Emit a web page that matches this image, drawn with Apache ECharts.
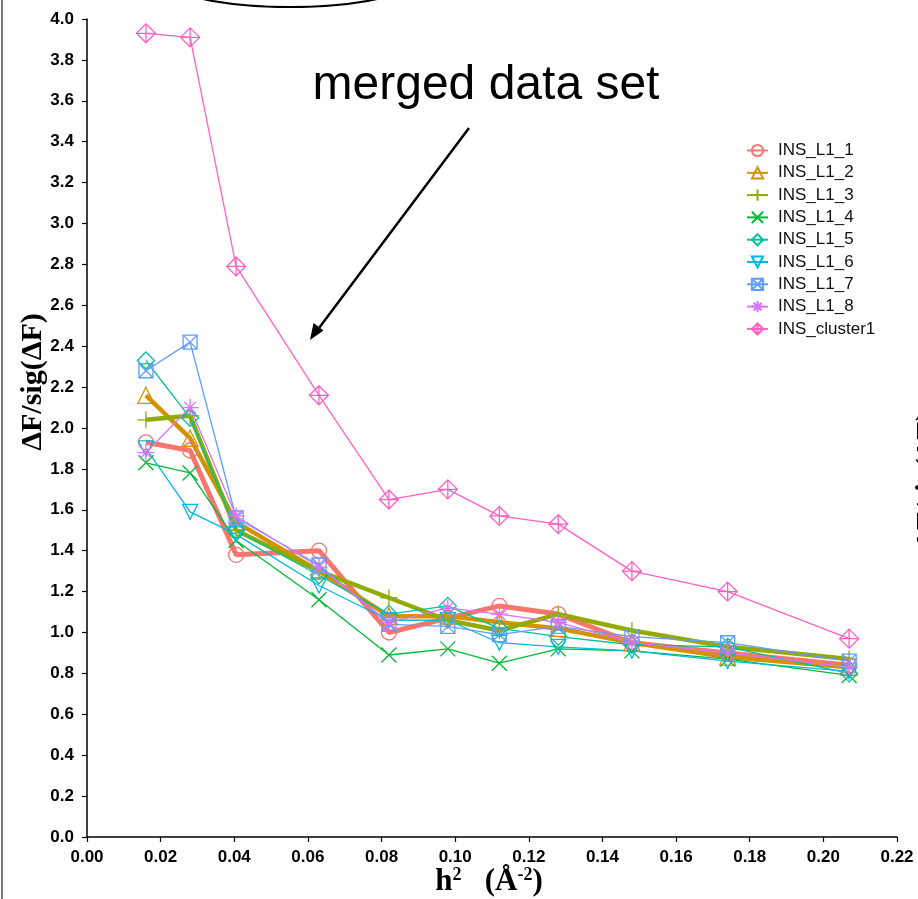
<!DOCTYPE html>
<html><head><meta charset="utf-8">
<script src="https://cdn.jsdelivr.net/npm/echarts@6/dist/echarts.min.js"></script>
<style>html,body{margin:0;padding:0;background:#fff}#c{width:918px;height:899px}</style>
</head><body><div id="c"></div>
<script>
var xVals = [0.016, 0.028, 0.0405, 0.063, 0.082, 0.098, 0.112, 0.128, 0.148, 0.174, 0.207];
var seriesNames = ['INS_L1_1','INS_L1_2','INS_L1_3','INS_L1_4','INS_L1_5','INS_L1_6','INS_L1_7','INS_L1_8','INS_cluster1'];
var L1_1 = [1.93, 1.89, 1.38, 1.40, 1.00, 1.07, 1.13, 1.09, 0.95, 0.90, 0.84];
var L1_2 = [2.16, 1.95, 1.54, 1.30, 1.08, 1.08, 1.05, 1.02, 0.95, 0.88, 0.83];
var L1_3 = [2.04, 2.06, 1.50, 1.30, 1.17, 1.06, 1.01, 1.09, 1.01, 0.93, 0.87];
var L1_4 = [1.83, 1.78, 1.45, 1.16, 0.89, 0.92, 0.85, 0.92, 0.91, 0.87, 0.79];
var L1_5 = [2.33, 2.05, 1.50, 1.28, 1.09, 1.13, 1.02, 0.98, 0.94, 0.93, 0.80];
var L1_6 = [1.90, 1.59, 1.48, 1.23, 1.06, 1.06, 0.95, 0.93, 0.91, 0.86, 0.81];
var L1_7 = [2.28, 2.42, 1.56, 1.33, 1.04, 1.03, 0.99, 1.03, 0.98, 0.95, 0.86];
var L1_8 = [1.88, 2.10, 1.57, 1.32, 1.05, 1.12, 1.09, 1.05, 0.95, 0.90, 0.83];
var cluster1 = [3.93, 3.91, 2.79, 2.16, 1.65, 1.70, 1.57, 1.53, 1.30, 1.20, 0.97];
var allValues = [L1_1, L1_2, L1_3, L1_4, L1_5, L1_6, L1_7, L1_8, cluster1];

var colors = ['#F8766D','#D39200','#93AA00','#00BA38','#00C19F','#00B9E3','#619CFF','#DB72FB','#FF61C3'];
var symbols = [
  'circle',
  'triangle',
  'path://M5,0L5,10M0,5L10,5',
  'path://M0,0L10,10M10,0L0,10',
  'diamond',
  'path://M0,0L10,0L5,10Z',
  'path://M0,0L10,0L10,10L0,10ZM0,0L10,10M10,0L0,10',
  'path://M5,0L5,10M0,5L10,5M1.5,1.5L8.5,8.5M8.5,1.5L1.5,8.5',
  'path://M5,0L10,5L5,10L0,5ZM5,0L5,10M0,5L10,5'
];
var symSizes = [15, 16, 17, 15, 17, 15, 14, 17, 19];
var lineWidths = [5, 4.5, 4.5, 1.3, 1.3, 1.3, 1.3, 1.3, 1.3];

var series = seriesNames.map(function(n, i){
  return {
    name: n, type: 'line',
    data: xVals.map(function(x, j){ return [x, allValues[i][j]]; }),
    symbol: symbols[i], symbolSize: symSizes[i],
    showAllSymbol: true,
    lineStyle: {color: colors[i], width: lineWidths[i]},
    itemStyle: {color: 'rgba(0,0,0,0)', borderColor: colors[i], borderWidth: 1.3},
    emphasis: {disabled: true},
    animation: false
  };
});

var chart = echarts.init(document.getElementById('c'));
chart.setOption({
  backgroundColor: '#fff',
  animation: false,
  grid: {left: 87, top: 19, width: 810, height: 818, containLabel: false},
  legend: {
    orient: 'vertical', left: 741, top: 137,
    itemWidth: 21, itemHeight: 14, itemGap: 5.3,
    textStyle: {fontFamily: 'Liberation Sans, Arial', fontSize: 17, lineHeight: 14, color: '#111', padding: [0, 0, 0, 5]},
    data: seriesNames
  },
  xAxis: {
    type: 'value', min: 0, max: 0.22, interval: 0.02,
    axisLine: {show: true, lineStyle: {color: '#000', width: 1.5}},
    axisTick: {show: true, length: 5, lineStyle: {color: '#000', width: 1.2}},
    splitLine: {show: false},
    axisLabel: {margin: 12, fontFamily: 'Liberation Sans, Arial', fontWeight: 'bold', fontSize: 17, color: '#000',
      formatter: function(v){ return v.toFixed(2); }}
  },
  yAxis: {
    type: 'value', min: 0, max: 4, interval: 0.2,
    axisLine: {show: true, lineStyle: {color: '#000', width: 1.5}},
    axisTick: {show: true, length: 5, lineStyle: {color: '#000', width: 1.2}},
    splitLine: {show: false},
    axisLabel: {margin: 13, fontFamily: 'Liberation Sans, Arial', fontWeight: 'bold', fontSize: 17, color: '#000',
      formatter: function(v){ return v.toFixed(1); }}
  },
  series: series,
  graphic: [
    {type: 'rect', shape: {x: 1, y: 0, width: 2, height: 899}, style: {fill: '#777'}, silent: true},
    {type: 'ellipse', shape: {cx: 290, cy: -33, rx: 145, ry: 40}, style: {fill: 'none', stroke: '#000', lineWidth: 2}, silent: true},
    {type: 'text', x: 486, y: 86, style: {text: 'merged data set', fontFamily: 'Liberation Sans, Arial', fontSize: 48, fill: '#000', align: 'center', verticalAlign: 'middle'}, silent: true},
    {type: 'line', shape: {x1: 469, y1: 128, x2: 316, y2: 332}, style: {stroke: '#000', lineWidth: 2.5}, silent: true},
    {type: 'polygon', shape: {points: [[310, 340], [313.5, 323], [323.5, 330.5]]}, style: {fill: '#000'}, silent: true},
    {type: 'text', x: 33, y: 382, rotation: Math.PI / 2,
      style: {text: 'ΔF/sig(ΔF)', fontFamily: 'Liberation Serif, Times New Roman', fontWeight: 'bold', fontSize: 30, fill: '#000', align: 'center', verticalAlign: 'middle'}, silent: true},
    {type: 'text', x: 928, y: 480, rotation: Math.PI / 2,
      style: {text: 'ΔF/sig(ΔF)', fontFamily: 'Liberation Serif, Times New Roman', fontWeight: 'bold', fontSize: 30, fill: '#000', align: 'center', verticalAlign: 'middle'}, silent: true},
    {type: 'text', x: 489, y: 882,
      style: {text: '{b|h}{s|2}{b|   (Å}{s|-2}{b|)}', align: 'center', verticalAlign: 'middle',
        rich: {
          b: {fontFamily: 'Liberation Serif, Times New Roman', fontWeight: 'bold', fontSize: 31, fill: '#000', lineHeight: 32},
          s: {fontFamily: 'Liberation Serif, Times New Roman', fontWeight: 'bold', fontSize: 18, fill: '#000', verticalAlign: 'top', lineHeight: 32}
        }}, silent: true}
  ]
});
</script></body></html>
